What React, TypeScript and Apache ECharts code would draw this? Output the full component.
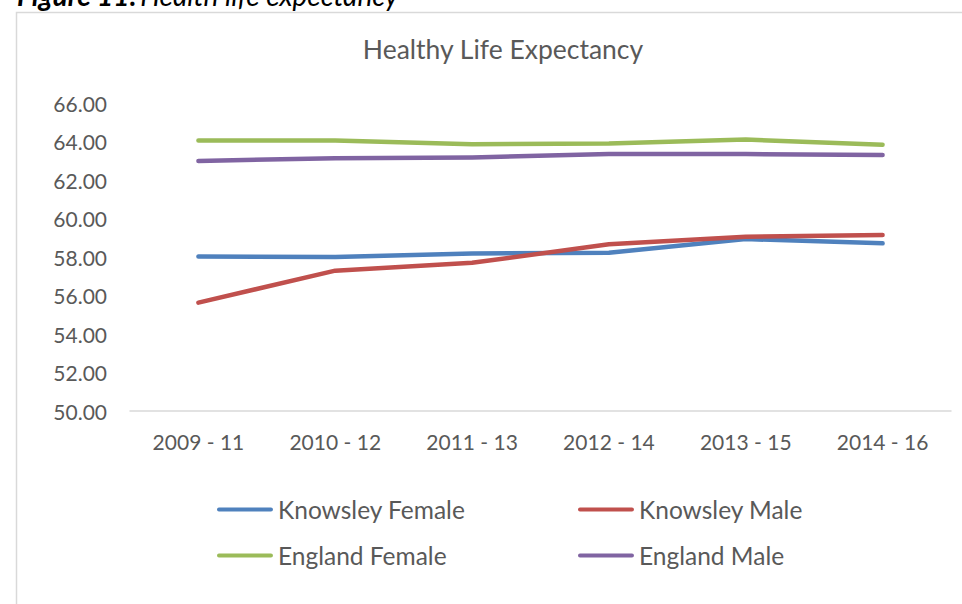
import React, { useEffect, useRef } from "react";
import * as echarts from "echarts";

const categories = ["2009 - 11", "2010 - 12", "2011 - 13", "2012 - 14", "2013 - 15", "2014 - 16"];
const knowsleyFemale = [58.02, 58.0, 58.18, 58.22, 58.93, 58.71];
const knowsleyMale = [55.63, 57.29, 57.7, 58.66, 59.05, 59.14];
const englandFemale = [64.05, 64.05, 63.86, 63.89, 64.1, 63.83];
const englandMale = [62.99, 63.13, 63.17, 63.35, 63.35, 63.3];
const seriesNames = ["Knowsley Female", "Knowsley Male", "England Female", "England Male"];
const seriesColors = ["#4f81bd", "#c0504d", "#9bbb59", "#8064a2"];
const yTicks = { min: 50, max: 66, interval: 2 };

export default function App() {
  const ref = useRef<HTMLDivElement>(null);
  useEffect(() => {
    if (!ref.current) return;
    const chart = echarts.init(ref.current, null, { renderer: "svg" });
    const values = [knowsleyFemale, knowsleyMale, englandFemale, englandMale];
    const font = "Lato, Carlito, sans-serif";
    const legendPos = [
      { left: 217, top: 497 },
      { left: 578, top: 497 },
      { left: 217, top: 543 },
      { left: 578, top: 543 },
    ];
    chart.setOption({
      animation: false,
      textStyle: { fontFamily: font },
      title: {
        text: "Healthy Life Expectancy",
        left: 498,
        textAlign: "center",
        top: 30,
        textStyle: { fontFamily: font, fontSize: 26.5, fontWeight: "normal", color: "#595959" },
      },
      graphic: [
        {
          type: "rect",
          shape: { x: 16.5, y: 12.5, width: 1000, height: 700 },
          style: { fill: "none", stroke: "#d9d9d9", lineWidth: 1.5 },
          silent: true,
        },
        {
          type: "text",
          x: 17,
          y: -19,
          style: {
            text: "{b|Figure 11:} {i|Health life expectancy}",
            rich: {
              b: { fontFamily: font, fontSize: 28, fontWeight: "bold", fontStyle: "italic", fill: "#000" },
              i: { fontFamily: font, fontSize: 28, fontStyle: "italic", fill: "#000" },
            },
          },
        },
      ],
      legend: seriesNames.map((n, i) => ({
        data: [n],
        left: legendPos[i].left,
        top: legendPos[i].top,
        padding: 0,
        itemWidth: 56,
        itemHeight: 18,
        itemGap: 4,
        icon: "path://M2,7 L54,7 A2,2 0 0 1 54,11 L2,11 A2,2 0 0 1 2,7 Z M0,0 L0,0.01 M56,18 L56,18.01",
        textStyle: { fontFamily: font, fontSize: 24.5, color: "#595959" },
      })),
      grid: { left: 130, right: 11, top: 103, bottom: 193, containLabel: false },
      xAxis: {
        type: "category",
        data: categories,
        boundaryGap: true,
        axisLine: { lineStyle: { color: "#d9d9d9", width: 1.5 } },
        axisTick: { show: false },
        axisLabel: { color: "#595959", fontSize: 21, fontFamily: font, margin: 20, interval: 0 },
      },
      yAxis: {
        type: "value",
        min: yTicks.min,
        max: yTicks.max,
        interval: yTicks.interval,
        axisLine: { show: false },
        axisTick: { show: false },
        splitLine: { show: false },
        axisLabel: {
          color: "#595959",
          fontSize: 21,
          fontFamily: font,
          margin: 23,
          formatter: (v: number) => v.toFixed(2),
        },
      },
      series: seriesNames.map((n, i) => ({
        name: n,
        type: "line",
        data: values[i],
        symbol: "none",
        color: seriesColors[i],
        lineStyle: { width: 4.5, color: seriesColors[i], cap: "round", join: "round" },
        itemStyle: { color: seriesColors[i] },
      })),
    });
    return () => chart.dispose();
  }, []);
  return (
    <div
      ref={ref}
      style={{ position: "fixed", left: 0, top: 0, width: 962, height: 604, background: "#fff" }}
    />
  );
}
